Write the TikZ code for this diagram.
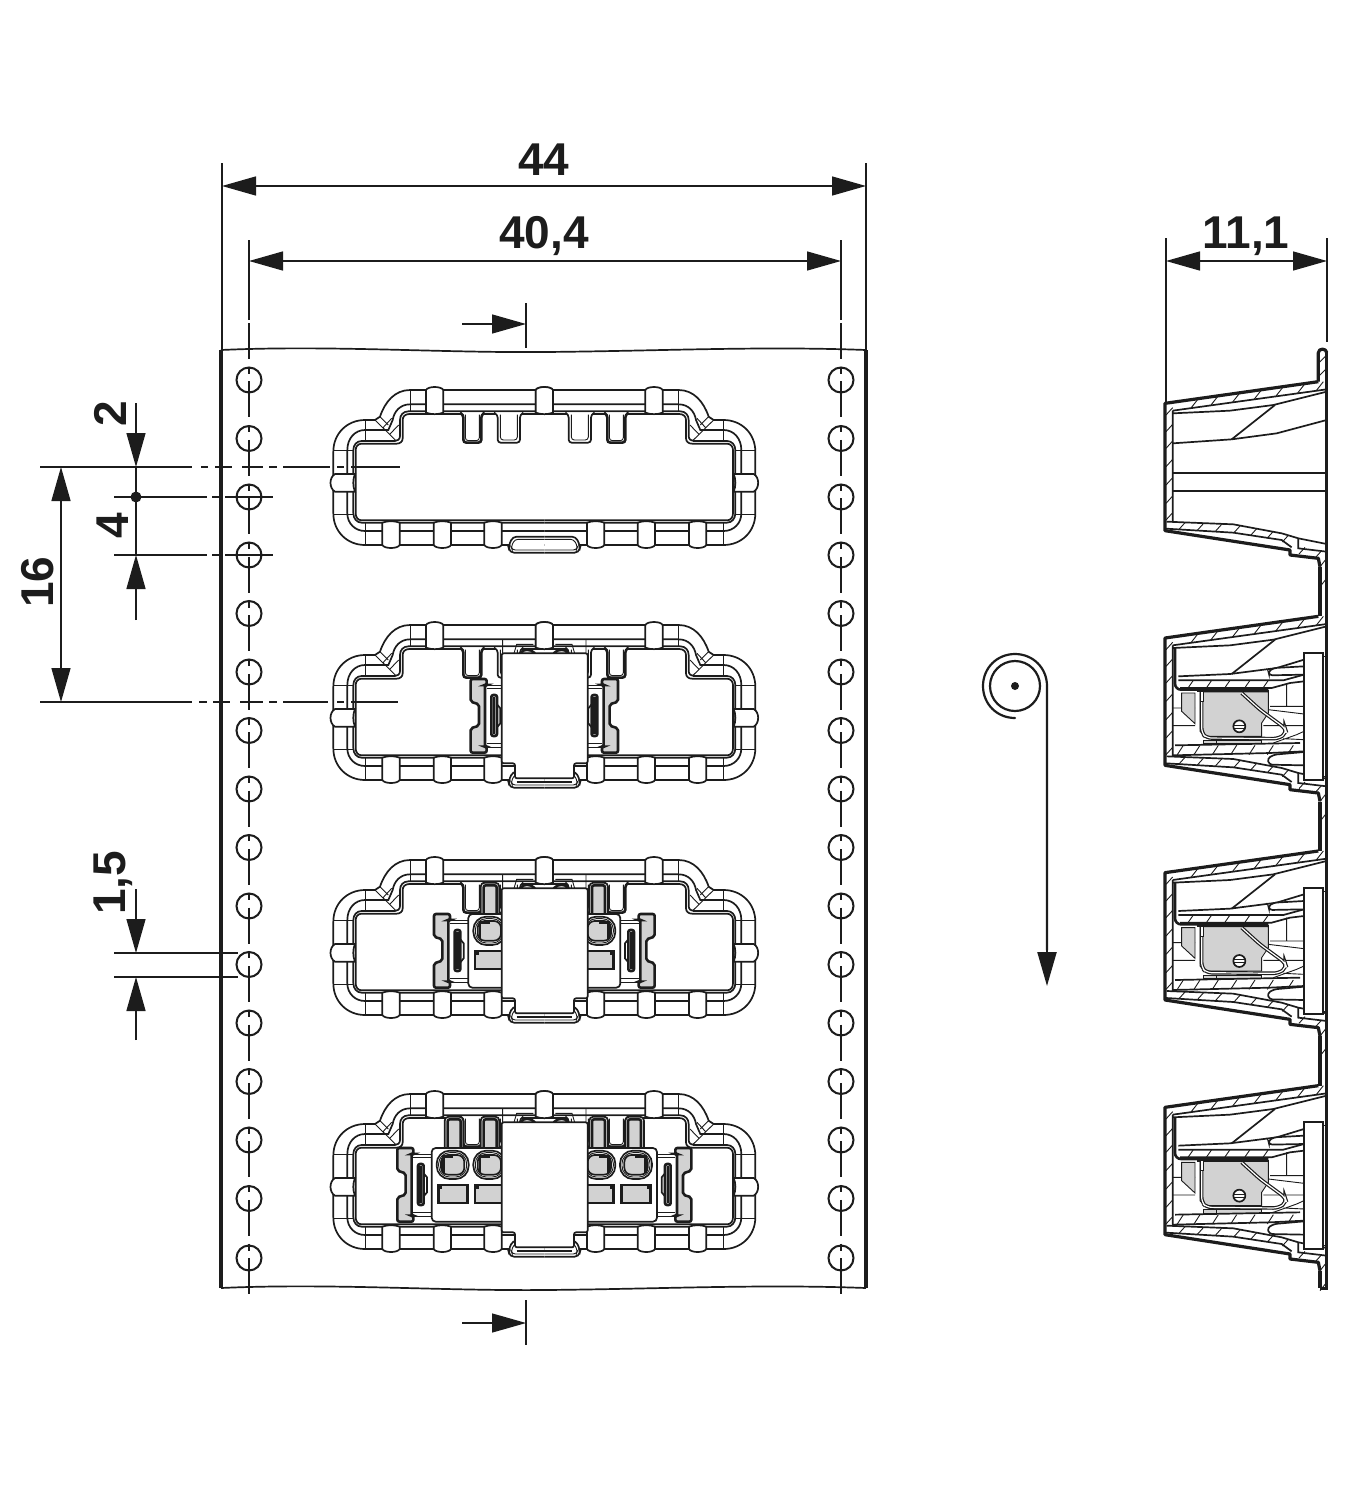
\documentclass[tikz,border=0pt]{standalone}
\usepackage{fontspec}
\setmainfont{Liberation Sans}
\usetikzlibrary{arrows.meta}
\definecolor{lc}{HTML}{1C1C1C}
\definecolor{gr}{HTML}{D2D2D2}
\tikzset{
 fin/.style={draw=lc,line width=.45pt},
 med/.style={draw=lc,line width=.85pt},
 hvy/.style={draw=lc,line width=1.3pt},
 wall/.style={draw=lc,line width=1.6pt},
 dimln/.style={draw=lc,line width=.7pt},
 tipboth/.style={{Triangle[length=17pt,width=9.5pt]}-{Triangle[length=17pt,width=9.5pt]}},
 tipend/.style={-{Triangle[length=17pt,width=9.5pt]}},
 lab/.style={font=\bfseries\fontsize{23}{23}\selectfont,text=lc,inner sep=0pt},
 hole/.style={draw=lc,line width=1pt},
 ctr/.style={draw=lc,line width=.55pt,dash pattern=on 18pt off 3.8pt on 3.6pt off 3.83pt},
}
% ---- one half of a frame (local units: 3 per pixel)
\newcommand{\PartHalf}{%
 \draw[med] (673,60)--(270,60) .. controls (225,60) and (195,95) .. (180,140)--(165,150)--(135,150) .. controls (82,150) and (40,190) .. (40,245)--(40,430) .. controls (40,485) and (82,525) .. (135,525)--(673,525);
 \draw[med] (673,103)--(270,103) .. controls (240,103) and (222,125) .. (218,150)--(205,180)--(135,180) .. controls (105,180) and (82,205) .. (82,240)--(82,430) .. controls (82,460) and (105,483) .. (135,483)--(673,483);
 \draw[med] (673,124)--(265,124) .. controls (250,124) and (240,135) .. (240,150)--(240,198) .. controls (240,208) and (232,213) .. (225,213)--(125,213) .. controls (110,213) and (100,225) .. (100,240)--(100,430) .. controls (100,445) and (110,458) .. (125,458)--(673,458);
 \draw[med] (673,132)--(268,132) .. controls (255,132) and (248,140) .. (248,150)--(248,205) .. controls (248,215) and (240,221) .. (230,221)--(125,221) .. controls (114,221) and (107,230) .. (107,240)--(107,430) .. controls (107,442) and (114,451) .. (125,451)--(673,451);
 \draw[fin] (135,150)--(135,213) (135,458)--(135,525) (272,60)--(272,124) (40,240)--(100,240) (40,432)--(100,432);
 \draw[fin] (165,150)--(228,212) (190,172)--(215,145) (210,192)--(236,165) (180,140)--(205,165);
 \foreach \tx in {344,673}{\begin{scope}[shift={(\tx,0)}]
  \draw[med,fill=white] (-26,128)--(-26,60) .. controls (-20,48) and (20,48) .. (26,60)--(26,128) .. controls (10,134) and (-10,134) .. (-26,128)--cycle;
 \end{scope}}
 \foreach \tx in {213,367,519}{\begin{scope}[shift={(\tx,0)}]
  \draw[med,fill=white] (-26,458)--(-26,525) .. controls (-20,537) and (20,537) .. (26,525)--(26,458) .. controls (10,452) and (-10,452) .. (-26,458)--cycle;
 \end{scope}}
 \draw[med,fill=white] (105,312)--(45,312) .. controls (27,322) and (27,355) .. (45,365)--(105,365) .. controls (98,350) and (98,327) .. (105,312)--cycle;
 \draw[hvy,fill=white,rounded corners=1.5pt] (420,128)--(430,134)--(430,218)--(484,218)--(484,134)--(494,128);
 \draw[fin,rounded corners=1.5pt] (436,134)--(436,212)--(478,212)--(478,134);
 \draw[med,fill=white,rounded corners=1.5pt] (522,128)--(533,134)--(533,218)--(600,218)--(600,134)--(610,128);
 \draw[fin,rounded corners=1.5pt] (541,134)--(541,210)--(592,210)--(592,134);
 \draw[med,fill=white,rounded corners=2pt] (673,548)--(570,548)--(565,530)--(578,500)--(673,500);
 \draw[fin,rounded corners=1.5pt] (673,540)--(577,540)--(573,530)--(585,508)--(673,508);
}
% ---- mirror helper: #1 drawn on both sides of the axis
\newcommand{\BothSides}[1]{#1\begin{scope}[shift={(1346,0)},xscale=-1]#1\end{scope}}
% ---- clip with connector, moved by #1
\newcommand{\ClipUnit}[1]{\begin{scope}[shift={(#1,0)}]
 \draw[fin] (390,240)--(450,240) (390,250)--(450,250) (390,415)--(450,415) (390,427)--(450,427);
 \draw[hvy,fill=gr,rounded corners=1pt] (342,222)--(390,222)--(390,240)--(385,240)--(385,425)--(390,425)--(390,443)--(342,443)--(342,370)--(367,362)--(367,298)--(342,290)--cycle;
 \draw[hvy,fill=gr,rounded corners=1pt] (404,270) rectangle (421,393);
 \draw[hvy] (412,275)--(412,388);
 \draw[med] (421,298)--(431,310)--(431,355)--(421,367);
\end{scope}}
% ---- oval + window, moved by #1
\newcommand{\CellUnit}[1]{\begin{scope}[shift={(#1,0)}]
 \draw[med,rounded corners=6.5pt] (460,230) rectangle (556,315);
 \draw[fin,rounded corners=5.5pt] (466,236) rectangle (550,309);
 \draw[med,fill=gr,rounded corners=3.5pt] (473,243) rectangle (543,302);
 \draw[hvy] (480,296)--(480,248)--(510,248);
 \draw[hvy,fill=gr] (465,333) rectangle (552,387);
 \fill[lc] (466,334) rectangle (476,346);
\end{scope}}
% ---- strip behind a finger, moved by #1
\newcommand{\StripUnit}[1]{\begin{scope}[shift={(#1,0)}]
 \draw[med,fill=white,rounded corners=2pt] (482,220)--(482,128)--(538,128)--(538,220);
 \draw[hvy,fill=gr,rounded corners=1pt] (491,220)--(491,136)--(530,136)--(530,220);
\end{scope}}
% ---- parts behind the slider top
\newcommand{\TopBack}{%
 \draw[fin] (548,105)--(548,145) (582,145)--(590,118)--(640,118);
 \draw[hvy,fill=gr] (602,145) .. controls (610,130) and (630,130) .. (645,145);
}
% ---- slider on top
\newcommand{\SliderBlock}{%
 \draw[med,fill=white,rounded corners=1pt] (545,145)--(803,145)--(803,475)--(762,475)--(762,520)--(585,520)--(585,475)--(545,475)--cycle;
 \draw[fin] (545,475)--(545,525) (803,475)--(803,525) (545,523)--(565,523) (782,523)--(803,523);
 \draw[med] (590,531)--(757,531);
}
% ---- side view: common part of one section
\newcommand{\SecOutline}{%
 \draw[wall,line join=round] (505,125)--(45,190)--(45,572)--(420,630)--(420,645)--(505,655)--(510,680);
 \draw[med] (68,212)--(530,148) (68,212)--(68,545);
 \draw[med] (50,545)--(250,553)--(395,580)--(445,595)--(530,612);
 \draw[med] (445,595)--(445,625)--(530,635);
 \draw[med] (48,566)--(250,578)--(395,600)--(425,622);
 \foreach \hx/\hy in {145/176,205/167,270/158,335/149,400/140,465/131,520/125}{\draw[fin] (\hx,\hy)--({\hx-22},{\hy+28});}
 \foreach \hy in {225,275,325,380,435,490,540}{\draw[fin] (48,\hy)--(68,{\hy-22});}
 \foreach \hx/\hy in {105/548,160/551,215/553,270/558,320/566,370/574,415/586,465/622,515/632}{\draw[fin] (\hx,\hy)--({\hx-18},{\hy+20});}
 \foreach \hy in {680,740}{\draw[fin] (510,\hy)--(530,{\hy-25});}
 \draw[med] (68,220)--(240,212)--(370,195)--(530,155);
 \draw[med] (245,298)--(375,195);
}
\newcommand{\SecEmpty}{%
 \SecOutline
 \draw[med] (68,310)--(245,298)--(380,280)--(530,240);
 \draw[med] (68,400)--(530,400) (68,453)--(530,453);
}
\newcommand{\SecFull}{%
 \SecOutline
 \draw[med] (85,305)--(240,298)--(380,280)--(462,255);
 \draw[med] (85,317)--(400,317)--(462,300) (90,340)--(365,340)--(420,325)--(462,320);
 \foreach \hx in {130,185,240,300,355}{\draw[fin] (\hx,317)--({\hx-16},340);}
 \draw[hvy,rounded corners=3pt] (75,220)--(75,345)--(355,345);
 \draw[fin] (68,400)--(135,400) (68,453)--(135,453) (355,405)--(462,418) (340,453)--(462,453) (410,325)--(410,395) (360,395)--(462,395);
 \draw[fin,fill=gr] (95,355)--(135,355)--(135,447)--(95,410)--cycle;
 \draw[fin,fill=gr] (150,352)--(355,352)--(355,415)--(335,445)--(335,485)--(165,485)--(150,470)--cycle;
 \draw[fin,fill=gr] (160,497) rectangle (335,507);
 \draw[draw=lc,double=white,line width=.6pt,double distance=.6pt,rounded corners=2.5pt] (155,350)--(155,475)--(170,490)--(385,492)--(410,475)--(405,460)--(330,405)--(275,355);
 \draw[med] (142,350)--(358,350);
 \draw[fin,fill=white] (150,352)--(150,380)--(160,380)--(160,352);
 \draw[med,fill=white] (268,455) circle[radius=18];
 \draw[fin] (251,451)--(285,451) (251,460)--(285,460);
 \draw[med] (75,512)--(450,505) (68,542)--(360,535)--(462,530);
 \draw[fin] (370,505)--(440,480)--(462,470) (400,492)--(462,495);
 \foreach \hx in {100,150,205,260,315,370,430}{\draw[fin] (\hx,512)--({\hx-18},540);}
 \draw[fin] (200,512)--(200,497);
 \draw[med,fill=white,rounded corners=1.5pt] (462,275)--(372,280)--(355,290)--(358,302)--(462,300);
 \draw[med,fill=white,rounded corners=1.5pt] (462,532)--(372,540)--(352,552)--(358,570)--(462,572);
 \draw[med,fill=white] (462,235) rectangle (520,615);
 \draw[fin] (520,245)--(530,245) (520,605)--(530,605);
 \draw[hvy] (462,235)--(462,615);
}
\begin{document}
\begin{tikzpicture}[x=.5pt,y=-.5pt]
\useasboundingbox (0,0) rectangle (1371,1500);
\fill[white] (0,0) rectangle (1371,1500);
% paper
\draw[wall] (221,350)--(221,1288) (866,350)--(866,1288);
\draw[med] (221,350) .. controls (330,345) and (440,353) .. (545,352) .. controls (660,351) and (760,346) .. (866,350);
\draw[med] (221,1288) .. controls (330,1283) and (440,1291) .. (545,1290) .. controls (660,1289) and (760,1284) .. (866,1288);
% sprocket holes and centre lines
\foreach \xh in {249,841}{
 \draw[ctr] (\xh,323)--(\xh,1297);
 \foreach \yh in {380,438.5,497,555,613.5,672,730.5,789,847.5,906,964.5,1023,1081.5,1140,1198.5,1258}{
  \draw[hole] (\xh,\yh) circle[radius=12.5];}
}
% dimension 44 / 40,4
\draw[dimln] (222,163)--(222,350) (866,163)--(866,350) (249,240)--(249,320) (841,240)--(841,320);
\draw[dimln,tipboth] (222,186)--(866,186);
\draw[dimln,tipboth] (249,261)--(841,261);
\node[lab] (d44) at (544,160) {44};
\node[lab] (d404) at (544,236) {40,4};
% dimension 11,1
\draw[dimln] (1166,238)--(1166,402) (1327,238)--(1327,342);
\draw[dimln,tipboth] (1166,261)--(1327,261);
\node[lab] (d111) at (1246,236) {11,1};
% section marks
\draw[dimln] (526,303)--(526,348) (526,1300)--(526,1345);
\draw[dimln,tipend] (462,324)--(526,324);
\draw[dimln,tipend] (462,1323)--(526,1323);
% left dimensions
\draw[dimln] (40,467)--(192,467) (201,467)--(208,467) (215,467)--(232,467) (242,467)--(263,467) (269,467)--(277,467) (283,467)--(330,467) (337,467)--(344,467) (351,467)--(400,467);
\draw[dimln] (40,702)--(192,702) (199,702)--(207,702) (213,702)--(230,702) (240,702)--(263,702) (269,702)--(277,702) (283,702)--(328,702) (337,702)--(344,702) (351,702)--(398,702);
\draw[dimln] (114,497)--(207,497) (212,497)--(219,497) (225,497)--(273,497);
\draw[dimln] (114,555)--(207,555) (212,555)--(219,555) (225,555)--(273,555);
\draw[dimln,tipboth] (61,467)--(61,702);
\draw[dimln,tipend] (136,403)--(136,467);
\draw[dimln] (136,467)--(136,555);
\draw[dimln,tipend] (136,620)--(136,555);
\fill[lc] (136,497) circle[radius=5.5];
\node[lab,rotate=90] (d2) at (110,414) {2};
\node[lab,rotate=90] (d4) at (113,526) {4};
\node[lab,rotate=90] (d16) at (38,582) {16};
\draw[dimln] (114,953)--(238,953) (114,977)--(238,977);
\draw[dimln,tipend] (136,889)--(136,953);
\draw[dimln,tipend] (136,1040)--(136,977);
\node[lab,rotate=90] (d15) at (113,883) {1,5};
% winding symbol
\fill[lc] (1015,686) circle[radius=4];
\draw[hole,line width=1.1pt] (1015,686) circle[radius=25];
\draw[line width=1.1pt,draw=lc,line cap=round] (1015,718) .. controls (997,718) and (983,704) .. (983,686) .. controls (983,668) and (997,654) .. (1015,654) .. controls (1033,654) and (1047,668) .. (1047,686)--(1047,950);
\draw[dimln,line width=1.1pt,tipend] (1047,940)--(1047,986);
% frames
\foreach \yo in {0,235,470,704}{
\begin{scope}[shift={(320,370+\yo)},scale=.33333]
 \BothSides{\PartHalf}
\end{scope}}
% frame 2 contents
\begin{scope}[shift={(320,605)},scale=.33333]
 \BothSides{\TopBack\ClipUnit{110}}
 \SliderBlock
\end{scope}
% frame 3 contents
\begin{scope}[shift={(320,840)},scale=.33333]
 \BothSides{\TopBack\StripUnit{0}\ClipUnit{0}\draw[med,fill=white,rounded corners=2pt] (560,222)--(445,222)--(445,443)--(560,443);\CellUnit{0}}
 \SliderBlock
\end{scope}
% frame 4 contents
\begin{scope}[shift={(320,1074)},scale=.33333]
 \BothSides{\TopBack\StripUnit{0}\StripUnit{-108}\ClipUnit{-110}\draw[med,fill=white,rounded corners=2pt] (560,222)--(335,222)--(335,443)--(560,443);\CellUnit{0}\CellUnit{-110}}
 \SliderBlock
\end{scope}
% side view
\begin{scope}[shift={(1150,340)},scale=.33333]
 \draw[wall] (530,36)--(530,2845)--(510,2845);
 \draw[wall,line join=round] (505,125)--(505,38) .. controls (505,24) and (530,24) .. (530,38);
 \draw[wall] (510,680)--(510,829) (510,1385)--(510,1533) (510,2089)--(510,2237) (510,2793)--(510,2845);
 \draw[fin] (505,70)--(530,45) (505,110)--(530,85);
 \SecEmpty
 \foreach \so in {704,1408,2112}{\begin{scope}[shift={(0,\so)}]\SecFull\end{scope}}
\end{scope}
\end{tikzpicture}
\end{document}
